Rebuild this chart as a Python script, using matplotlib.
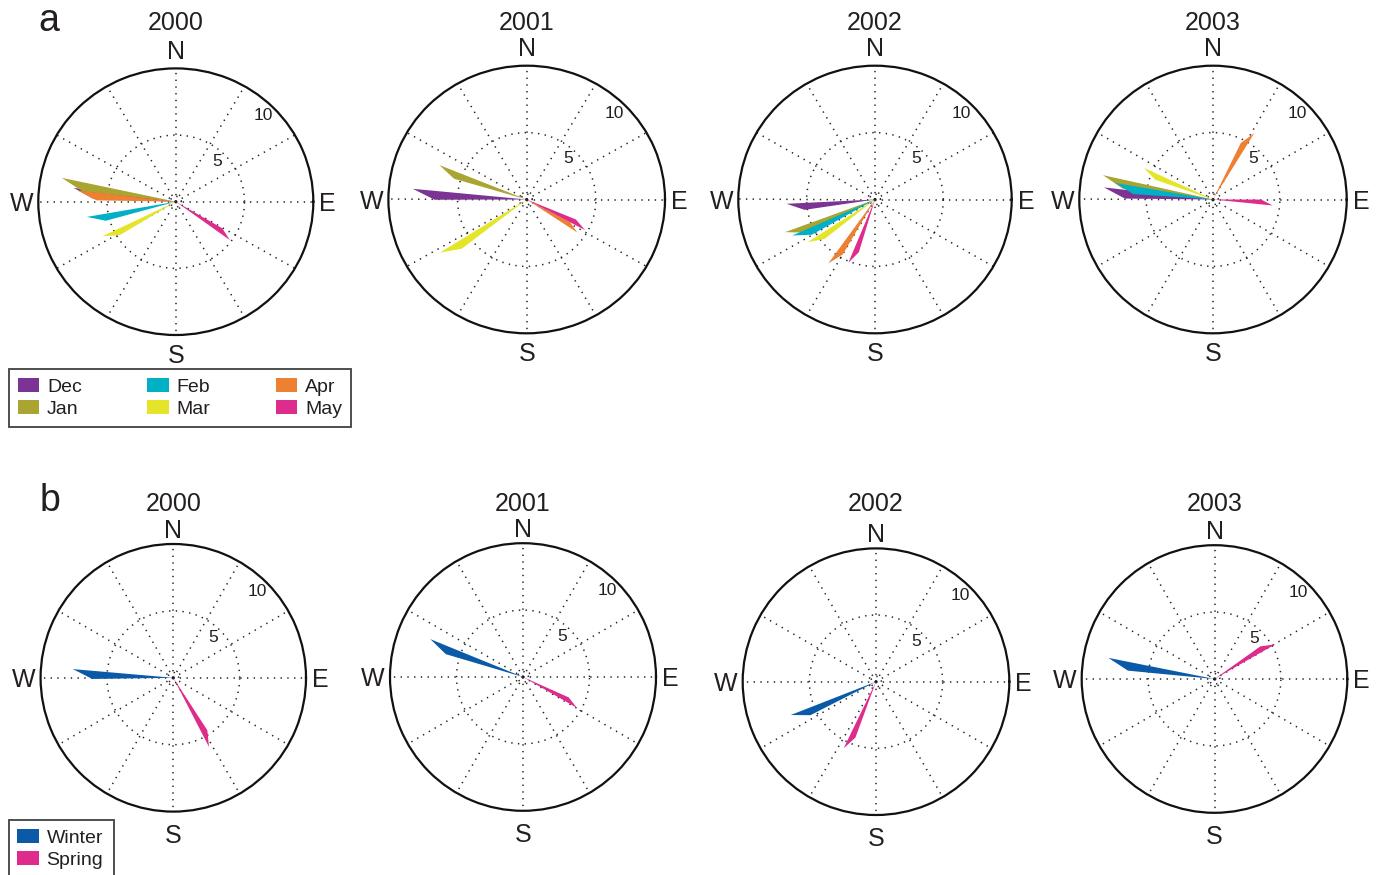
import numpy as np
import matplotlib
matplotlib.use("Agg")
import matplotlib.pyplot as plt
from matplotlib.patches import Patch
from matplotlib.transforms import offset_copy

plt.rcParams['font.family'] = ['Liberation Sans', 'DejaVu Sans']

years = ['2000', '2001', '2002', '2003']
month_names = ['Dec', 'Jan', 'Feb', 'Mar', 'Apr', 'May']
season_names = ['Winter', 'Spring']

# Mean vectors per year: eastward (u) and northward (v) components
dec_u = [-7.44, -8.24, -6.47, -8.15]
dec_v = [1.04, 0.80, -0.32, 0.90]
jan_u = [-8.29, -6.31, -6.58, -8.23]
jan_v = [1.79, 2.57, -2.44, 1.82]
feb_u = [-6.47, np.nan, -6.05, -7.33]
feb_v = [-1.14, np.nan, -2.69, 1.24]
mar_u = [-5.33, -6.27, -4.93, -5.16]
mar_v = [-2.59, -3.97, -3.19, 2.36]
apr_u = [-7.13, 3.66, -3.42, 3.09]
apr_v = [0.84, -2.47, -4.78, 4.96]
may_u = [3.93, 4.22, -1.95, 4.46]
may_v = [-2.88, -2.29, -4.73, -0.45]

winter_u = [-7.57, -6.97, -6.40, -7.99]
winter_v = [0.65, 2.83, -2.50, 1.58]
spring_u = [2.69, 4.06, -2.43, 4.57]
spring_v = [-5.17, -2.31, -5.00, 2.59]

month_u = [dec_u, jan_u, feb_u, mar_u, apr_u, may_u]
month_v = [dec_v, jan_v, feb_v, mar_v, apr_v, may_v]
season_u = [winter_u, spring_u]
season_v = [winter_v, spring_v]

month_colors = ['#7b3494', '#aaa532', '#00b0c4', '#e4e428', '#ee8032', '#de2c8c']
season_colors = ['#0a5aa8', '#de2c8c']

TXT = '#231f20'
W, H = 1387, 875
fig = plt.figure(figsize=(W / 100, H / 100), dpi=100)


def rect(cx, cy, rh, rv):
    return [(cx - rh) / W, 1 - (cy + rv) / H, 2 * rh / W, 2 * rv / H]


def compass_arrow(ax, u, v, color):
    """Filled compass arrow: shaft wedge widening to a one-sided barb."""
    if np.isnan(u) or np.isnan(v):
        return
    tip = np.array([u, v])
    barb = 0.8 * tip + 0.08 * np.array([-v, u])
    pts = np.vstack([[0.0, 0.0], barb, tip])
    theta = np.arctan2(pts[:, 1], pts[:, 0])
    r = np.hypot(pts[:, 0], pts[:, 1])
    ax.fill(theta, r, color=color, lw=0, zorder=3)


def make_compass(geom, title, title_y, n_gap, s_gap):
    cx, cy, rh, rv = geom
    ax = fig.add_axes(rect(cx, cy, rh, rv), projection='polar')
    ax.set_aspect('auto')
    ax.set_xticks(np.deg2rad(np.arange(0, 360, 30)))
    ax.set_yticks([0.4, 5])
    ax.set_xticklabels([])
    ax.set_yticklabels([])
    ax.tick_params(length=0)
    ax.grid(True, color='#222222', lw=1.1, linestyle=(0, (0.9, 3.5)))
    ax.spines['polar'].set_linewidth(1.6)
    ax.spines['polar'].set_color('#111111')
    ax.set_facecolor('none')

    ang = np.deg2rad(45.5)
    ax.text(ang, 4.25, '5', ha='center', va='center', fontsize=12.5, color=TXT)
    ax.text(ang, 9.05, '10', ha='center', va='center', fontsize=12.5, color=TXT)

    fs = 18
    ax.text(0.5, 1.0, 'N', transform=offset_copy(ax.transAxes, fig=fig, x=0, y=n_gap, units='dots'),
            ha='center', va='baseline', fontsize=fs, color=TXT)
    ax.text(0.5, 0.0, 'S', transform=offset_copy(ax.transAxes, fig=fig, x=0, y=-s_gap, units='dots'),
            ha='center', va='top', fontsize=fs, color=TXT)
    ax.text(0.0, 0.5, 'W', transform=offset_copy(ax.transAxes, fig=fig, x=-5, y=0, units='dots'),
            ha='right', va='center_baseline', fontsize=fs, color=TXT)
    ax.text(1.0, 0.5, 'E', transform=offset_copy(ax.transAxes, fig=fig, x=6, y=0, units='dots'),
            ha='left', va='center_baseline', fontsize=fs, color=TXT)
    fig.text(cx / W, 1 - title_y / H, title, ha='center', va='baseline', fontsize=fs, color=TXT)
    return ax


geom_a = [(175.8, 201.7, 137.5, 133.3), (526.7, 199.5, 138.3, 133.8),
          (875.0, 199.5, 136.7, 133.8), (1213.0, 199.5, 133.7, 133.8)]
geom_b = [(173.3, 677.8, 132.7, 133.8), (523.0, 677.0, 133.0, 133.8),
          (876.0, 681.7, 133.3, 133.3), (1214.5, 679.0, 132.8, 133.8)]

# Panel a: monthly vectors
for i, yr in enumerate(years):
    ax = make_compass(geom_a[i], yr, 30, 9.5, 9)
    for us, vs, c in zip(month_u, month_v, month_colors):
        compass_arrow(ax, us[i], vs[i], c)
    ax.set_ylim(0, 10)

# Panel b: seasonal vectors
for i, yr in enumerate(years):
    ax = make_compass(geom_b[i], yr, 511, 6, 12)
    for us, vs, c in zip(season_u, season_v, season_colors):
        compass_arrow(ax, us[i], vs[i], c)
    ax.set_ylim(0, 10)

fig.text(38 / W, 1 - 31 / H, 'a', ha='left', va='baseline', fontsize=27, color=TXT)
fig.text(40 / W, 1 - 510.7 / H, 'b', ha='left', va='baseline', fontsize=27, color=TXT)

leg_kw = dict(frameon=True, fancybox=False, edgecolor='#111111', borderaxespad=0,
              handlelength=1.1, handleheight=0.78, handletextpad=0.4,
              borderpad=0.45, labelspacing=0.2, fontsize=14, mode='expand')

handles_a = [Patch(facecolor=c, edgecolor='none') for c in month_colors]
leg_a = fig.legend(handles_a, month_names, ncol=3, loc='upper left',
                   bbox_to_anchor=(9 / W, 1 - 430 / H, 342 / W, 61 / H), **leg_kw)
leg_a.get_frame().set_linewidth(1.3)
for t in leg_a.get_texts():
    t.set_color(TXT)

handles_b = [Patch(facecolor=c, edgecolor='none') for c in season_colors]
leg_b = fig.legend(handles_b, season_names, ncol=1, loc='upper left',
                   bbox_to_anchor=(8.5 / W, 1 - 885 / H, 105.5 / W, 65 / H), **leg_kw)
leg_b.get_frame().set_linewidth(1.3)
for t in leg_b.get_texts():
    t.set_color(TXT)

fig.savefig('out.png', dpi=100)
